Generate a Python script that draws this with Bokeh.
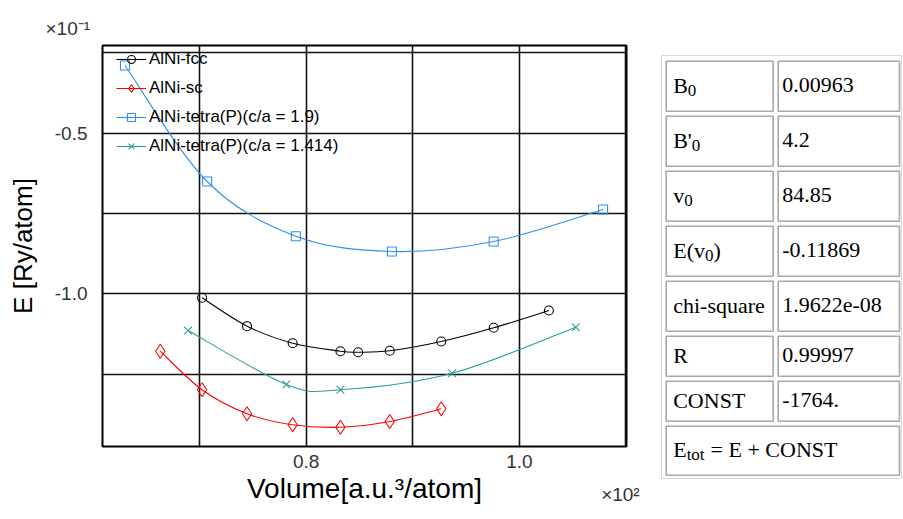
import numpy as np
from bokeh.plotting import figure
from bokeh.models import Range1d, FixedTicker, CustomJSTickFormatter, ColumnDataSource, Title
from bokeh.layouts import row
from bokeh.embed import file_html
from bokeh.resources import INLINE
from bokeh.core.properties import value

# ---------------- data (volume in a.u.^3/atom, energy in Ry/atom) ----------------
fcc_vol = [70.23, 74.45, 78.73, 83.21, 84.87, 87.84, 92.67, 97.59, 102.77]
fcc_E = [-0.10124, -0.11007, -0.11536, -0.11785, -0.11816, -0.11772, -0.11483, -0.11057, -0.10519]

sc_vol = [66.31, 70.23, 74.45, 78.73, 83.21, 87.84, 92.67]
sc_E = [-0.11785, -0.12985, -0.13731, -0.14073, -0.14148, -0.13971, -0.13576]

t19_vol = [63.00, 70.71, 79.03, 88.04, 97.59, 107.85]
t19_E = [-0.02901, -0.06508, -0.08209, -0.08685, -0.08374, -0.07379]

t1414_vol = [68.91, 78.14, 83.21, 93.70, 105.30]
t1414_E = [-0.11141, -0.12820, -0.12985, -0.12469, -0.11039]

series_names = ["AlNi-fcc", "AlNi-sc", "AlNi-tetra(P)(c/a = 1.9)", "AlNi-tetra(P)(c/a = 1.414)"]

x_label_ticks = [80, 100]
x_grid_ticks = [70, 80, 90, 100, 110]
y_label_ticks = [-0.05, -0.10]
y_grid_ticks = [-0.025, -0.05, -0.075, -0.10, -0.125]
x_exponent_text = "×10²"
y_exponent_text = "×10⁻¹"
x_exponent_at = 109.48   # where the x multiplier sits along the axis

table_names = ["B", "B'", "v", "E(v", "chi-square", "R", "CONST"]
table_subs = ["0", "0", "0", "0", "", "", ""]
table_after = ["", "", "", ")", "", "", ""]
table_values = ["0.00963", "4.2", "84.85", "-0.11869", "1.9622e-08", "0.99997", "-1764."]
footer_main = "E"
footer_sub = "tot"
footer_rest = "= E + CONST"

# ---------------- helpers ----------------
def spline_source(xs, ys):
    x = np.asarray(xs, float)
    y = np.asarray(ys, float)
    n = len(x)
    xp = np.concatenate([[x[0]], x, [x[-1]]])
    yp = np.concatenate([[y[0]], y, [y[-1]]])
    cx0 = xp[1:n] + (xp[2:n + 1] - xp[0:n - 1]) / 6.0
    cy0 = yp[1:n] + (yp[2:n + 1] - yp[0:n - 1]) / 6.0
    cx1 = xp[2:n + 1] - (xp[3:n + 2] - xp[1:n]) / 6.0
    cy1 = yp[2:n + 1] - (yp[3:n + 2] - yp[1:n]) / 6.0
    return ColumnDataSource(dict(x0=x[:-1], y0=y[:-1], x1=x[1:], y1=y[1:],
                                 cx0=cx0, cy0=cy0, cx1=cx1, cy1=cy1))

SANS = "Liberation Sans"
SERIF = "Liberation Serif"
H = 519

# ---------------- main plot ----------------
p = figure(width=654, height=H, title=None,
           min_border_left=102, min_border_right=28, min_border_top=45, min_border_bottom=73,
           x_range=Range1d(60.89, 110.05), y_range=Range1d(-0.14748, -0.02279),
           output_backend="svg", toolbar_location=None)
p.frame_align = False
p.background_fill_color = "white"
p.border_fill_color = "white"
p.outline_line_color = "black"
p.outline_line_width = 2

p.xaxis.ticker = FixedTicker(ticks=x_label_ticks + [x_exponent_at])
p.yaxis.ticker = FixedTicker(ticks=y_label_ticks)
p.xgrid.ticker = FixedTicker(ticks=x_grid_ticks)
p.ygrid.ticker = FixedTicker(ticks=y_grid_ticks)
p.xaxis.formatter = CustomJSTickFormatter(code="return (tick/100).toFixed(1);")
p.yaxis.formatter = CustomJSTickFormatter(code="return (tick*10).toFixed(1);")
p.xaxis.major_label_overrides = {x_exponent_at: "\n" + x_exponent_text}
for g in (p.xgrid, p.ygrid):
    g.grid_line_color = "#111111"
    g.grid_line_width = 1.6
for ax in (p.xaxis, p.yaxis):
    ax.axis_line_color = None
    ax.major_tick_line_color = None
    ax.minor_tick_line_color = None
    ax.major_label_text_font = SANS
    ax.major_label_text_font_size = "19px"
    ax.major_label_text_color = "#333333"
    ax.axis_label_text_font = SANS
    ax.axis_label_text_font_style = "normal"
    ax.axis_label_text_color = "black"
p.xaxis.axis_label_text_font_size = "28px"
p.yaxis.axis_label_text_font_size = "26px"
p.xaxis.major_label_text_line_height = 1.6
p.xaxis.major_label_standoff = -2
p.yaxis.major_label_standoff = 9
p.xaxis.axis_label = "Volume[a.u.³/atom]"
p.yaxis.axis_label = "E [Ry/atom]"
p.xaxis.axis_label_standoff = -35
p.yaxis.axis_label_standoff = 14

p.add_layout(Title(text=y_exponent_text, align="left", offset=-57, standoff=13,
                   text_font=SANS, text_font_size="19px", text_font_style="normal",
                   text_color="#333333"), "above")

styles = [
    (fcc_vol, fcc_E, "#000000", dict(marker="circle", size=9)),
    (sc_vol, sc_E, "#ff0000", dict(marker="diamond", size=14)),
    (t19_vol, t19_E, "#2f8ff0", dict(marker="square", size=9)),
    (t1414_vol, t1414_E, "#2a9d9d", dict(marker="x", size=11)),
]
for (xs, ys, col, mk), name in zip(styles, series_names):
    src = spline_source(xs, ys)
    p.bezier(x0="x0", y0="y0", x1="x1", y1="y1", cx0="cx0", cy0="cy0", cx1="cx1", cy1="cy1",
             source=src, line_color=col, line_width=1.1, legend_label=name)
    p.scatter(xs, ys, line_color=col, fill_color=None, line_width=1.1, legend_label=name, **mk)

lg = p.legend[0]
lg.location = (14, 290)
lg.margin = 0
lg.padding = 0
lg.spacing = 9
lg.glyph_width = 30
lg.glyph_height = 20
lg.label_height = 20
lg.label_standoff = 3
lg.background_fill_alpha = 0
lg.border_line_alpha = 0
lg.label_text_font = SANS
lg.label_text_font_size = "17px"
lg.label_text_color = "black"

# ---------------- table ----------------
TW = 248
t = figure(width=TW, height=H, title=None, x_range=Range1d(0, TW), y_range=Range1d(H, 0),
           min_border=0, output_backend="svg", toolbar_location=None)
t.frame_align = False
t.axis.visible = False
t.grid.visible = False
t.outline_line_color = None
t.background_fill_color = "white"
t.border_fill_color = "white"

serif_w = {"B": .667, "'": .180, "v": .5, "E": .611, "(": .333, ")": .333,
           "t": .278, "o": .5}
def tw(s, size):
    return sum(serif_w.get(ch, .5) for ch in s) * size

FS, SFS = 22, 17
row_h = [50, 50, 50, 50, 50, 40, 40, 49]
gap = 5
top0 = 60.7
lx0, lx1 = 11.7, 118.7
rx0, rx1 = 123.7, 245.0

tops = [top0]
for h in row_h[:-1]:
    tops.append(tops[-1] + h + gap)

# outer dotted border
t.rect(x=[(7 + 247) / 2], y=[(55 + 478) / 2], width=[240], height=[423],
       fill_color=None, line_color="#b5b5b5", line_width=1, line_dash="1 1")

cell_x, cell_y, cell_w, cell_h = [], [], [], []
for i in range(len(table_names)):
    yc = tops[i] + row_h[i] / 2
    cell_x += [(lx0 + lx1) / 2, (rx0 + rx1) / 2]
    cell_y += [yc, yc]
    cell_w += [lx1 - lx0, rx1 - rx0]
    cell_h += [row_h[i], row_h[i]]
yc = tops[-1] + row_h[-1] / 2
cell_x.append((lx0 + rx1) / 2); cell_y.append(yc); cell_w.append(rx1 - lx0); cell_h.append(row_h[-1])
t.rect(x=cell_x, y=cell_y, width=cell_w, height=cell_h, fill_color="white",
       line_color="#a8a8a8", line_width=1.6)

tx0 = lx0 + 7
vx0 = rx0 + 4
base_shift = -1
main_x, main_y, main_t = [], [], []
sub_x, sub_y, sub_t = [], [], []
for i, name in enumerate(table_names):
    yc = tops[i] + row_h[i] / 2
    base = yc + base_shift
    main_x.append(tx0); main_y.append(base); main_t.append(name)
    main_x.append(vx0); main_y.append(base); main_t.append(table_values[i])
    if table_subs[i]:
        sx = tx0 + tw(name, FS)
        sub_x.append(sx); sub_y.append(base + 5); sub_t.append(table_subs[i])
        if table_after[i]:
            main_x.append(sx + 0.5 * SFS); main_y.append(base); main_t.append(table_after[i])
yc = tops[-1] + row_h[-1] / 2
base = yc + base_shift
main_x.append(tx0); main_y.append(base); main_t.append(footer_main)
sx = tx0 + tw(footer_main, FS)
sub_x.append(sx); sub_y.append(base + 5); sub_t.append(footer_sub)
main_x.append(sx + tw(footer_sub, SFS) + 6); main_y.append(base); main_t.append(footer_rest)

t.text(x=main_x, y=main_y, text=main_t, text_font=value(SERIF), text_font_size=f"{FS}px",
       text_color="black", text_baseline="alphabetic", text_align="left")
t.text(x=sub_x, y=sub_y, text=sub_t, text_font=value(SERIF), text_font_size=f"{SFS}px",
       text_color="black", text_baseline="alphabetic", text_align="left")

layout = row(p, t)
open("out.html", "w").write(file_html(layout, INLINE))
